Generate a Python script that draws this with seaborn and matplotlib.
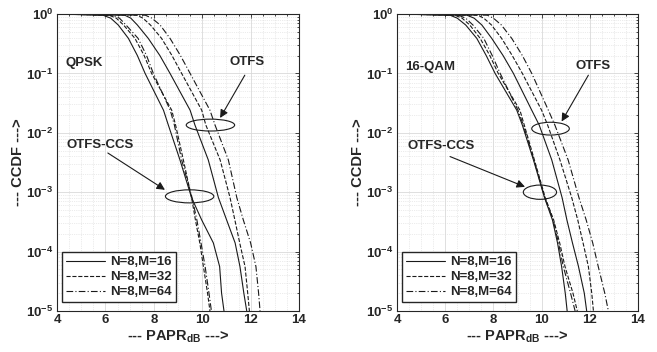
import numpy as np
import pandas as pd
import matplotlib
matplotlib.use('Agg')
import matplotlib.pyplot as plt
from matplotlib.patches import Ellipse
from matplotlib.ticker import MultipleLocator, LogLocator, FixedLocator, FixedFormatter, NullFormatter
import seaborn as sns

# CCDF levels shared by all curves, PAPR (dB) read at each level
ccdf_levels = [1.0, 0.955, 0.851, 0.653, 0.389, 0.2, 0.1, 0.024, 0.0135, 0.0035,
               8.1e-4, 3.4e-4, 1.4e-4, 5.6e-5, 2e-5, 1e-5]

qpsk_ccs_16 = [4.0, 5.9, 6.22, 6.53, 6.95, 7.32, 7.64, 8.4, 8.6, 9.08, 9.56, 9.98, 10.46, 10.72, 10.8, 10.9]
qpsk_ccs_32 = [4.0, 6.15, 6.45, 6.75, 7.22, 7.6, 7.91, 8.74, 8.9, 9.22, 9.56, 9.72, 9.9, 10.05, 10.22, 10.32]
qpsk_ccs_64 = [4.0, 6.3, 6.58, 6.85, 7.35, 7.7, 7.98, 8.68, 8.85, 9.15, 9.58, 9.78, 9.95, 10.12, 10.28, 10.38]
qpsk_otfs_16 = [4.0, 6.8, 7.05, 7.32, 7.77, 8.25, 8.67, 9.5, 9.7, 10.25, 10.67, 11.01, 11.36, 11.56, 11.72, 11.84]
qpsk_otfs_32 = [4.0, 7.3, 7.55, 7.86, 8.32, 8.75, 9.15, 9.98, 10.15, 10.74, 11.15, 11.35, 11.55, 11.77, 11.88, 11.95]
qpsk_otfs_64 = [4.0, 7.65, 7.92, 8.26, 8.67, 9.1, 9.5, 10.32, 10.53, 11.08, 11.43, 11.7, 12.0, 12.22, 12.33, 12.39]

qam_ccs_16 = [4.0, 6.2, 6.5, 6.85, 7.31, 7.7, 8.07, 8.97, 9.2, 9.66, 10.12, 10.45, 10.66, 10.83, 10.98, 11.06]
qam_ccs_32 = [4.0, 6.4, 6.7, 7.02, 7.45, 7.85, 8.2, 9.1, 9.28, 9.7, 10.15, 10.5, 10.75, 10.97, 11.3, 11.48]
qam_ccs_64 = [4.0, 6.55, 6.85, 7.15, 7.6, 7.95, 8.28, 9.02, 9.24, 9.68, 10.13, 10.48, 10.7, 10.9, 11.2, 11.39]
qam_otfs_16 = [4.0, 6.9, 7.2, 7.52, 7.93, 8.4, 8.83, 9.59, 9.9, 10.42, 10.85, 11.05, 11.28, 11.53, 11.77, 11.87]
qam_otfs_32 = [4.0, 7.35, 7.6, 7.92, 8.34, 8.78, 9.2, 10.0, 10.25, 10.76, 11.25, 11.5, 11.72, 11.94, 12.08, 12.15]
qam_otfs_64 = [4.0, 7.75, 8.0, 8.33, 8.76, 9.2, 9.59, 10.28, 10.55, 11.1, 11.55, 11.85, 12.12, 12.35, 12.62, 12.77]

legend_labels = ['N=8,M=16', 'N=8,M=32', 'N=8,M=64']
y_ticks = [1e-5, 1e-4, 1e-3, 1e-2, 1e-1, 1e0]
y_tick_labels = [r'$\mathbf{10^{-5}}$', r'$\mathbf{10^{-4}}$', r'$\mathbf{10^{-3}}$',
                 r'$\mathbf{10^{-2}}$', r'$\mathbf{10^{-1}}$', r'$\mathbf{10^{0}}$']
x_ticks = [4, 6, 8, 10, 12, 14]

sns.set_theme(style='white')
plt.rcParams['font.family'] = ['Liberation Sans', 'DejaVu Sans']
plt.rcParams['font.weight'] = 'bold'
plt.rcParams['mathtext.fontset'] = 'custom'
plt.rcParams['mathtext.rm'] = 'Liberation Sans'
plt.rcParams['mathtext.bf'] = 'Liberation Sans:bold'

styles = ['-', '--', (0, (6, 2, 1, 2))]
gray = '0.15'

fig = plt.figure(figsize=(6.57, 3.52), dpi=100)
ax1 = fig.add_axes([0.0868, 0.1165, 0.3683, 0.8437])
ax2 = fig.add_axes([0.6043, 0.1165, 0.3668, 0.8437])

panels = [
    (ax1, [qpsk_ccs_16, qpsk_ccs_32, qpsk_ccs_64], [qpsk_otfs_16, qpsk_otfs_32, qpsk_otfs_64]),
    (ax2, [qam_ccs_16, qam_ccs_32, qam_ccs_64], [qam_otfs_16, qam_otfs_32, qam_otfs_64]),
]

for ax, ccs, otfs in panels:
    for group in (ccs, otfs):
        for papr, ls, lab in zip(group, styles, legend_labels):
            df = pd.DataFrame({'papr': papr, 'ccdf': ccdf_levels})
            sns.lineplot(data=df, x='papr', y='ccdf', ax=ax, color='k', linestyle=ls,
                         lw=0.8, sort=False, estimator=None, label=lab if group is ccs else None)
    ax.set_yscale('log')
    ax.set_xlim(4, 14)
    ax.set_ylim(1e-5, 1)
    ax.xaxis.set_major_locator(FixedLocator(x_ticks))
    ax.xaxis.set_minor_locator(MultipleLocator(0.5))
    ax.yaxis.set_major_locator(FixedLocator(y_ticks))
    ax.yaxis.set_major_formatter(FixedFormatter(y_tick_labels))
    ax.yaxis.set_minor_locator(LogLocator(base=10, subs=np.arange(2, 10)))
    ax.yaxis.set_minor_formatter(NullFormatter())
    ax.grid(which='major', color='0.85', lw=0.6, ls='-')
    ax.grid(which='minor', color='0.85', lw=0.5, ls=':')
    ax.tick_params(which='both', direction='in', top=True, right=True, colors=gray,
                   labelsize=9.5, length=3, width=0.6, pad=2.5)
    ax.tick_params(which='minor', length=1.5)
    for lbl in ax.get_xticklabels():
        lbl.set_fontweight('bold')
    for sp in ax.spines.values():
        sp.set_color(gray)
        sp.set_linewidth(0.8)
    ax.set_xlabel(r'--- PAPR$_{\mathbf{dB}}$ --->', fontsize=10.5, fontweight='bold', color=gray, labelpad=1)
    ax.set_ylabel('--- CCDF --->', fontsize=10.5, fontweight='bold', color=gray, labelpad=1)
    ax.legend(loc='lower left', bbox_to_anchor=(0.02, 0.03), borderaxespad=0, fancybox=False,
              edgecolor='0.15', framealpha=1, handlelength=3.0, handletextpad=0.35,
              labelspacing=0.2, borderpad=0.3, prop={'weight': 'bold', 'size': 9.5})


def ellipse(ax, x, p, w, h):
    disp = ax.transData.transform((x, p))
    c = ax.transAxes.inverted().transform(disp)
    ax.add_patch(Ellipse(c, w, h, transform=ax.transAxes, fill=False, ec='k', lw=0.8))


arrow = dict(arrowstyle='-|>', color='k', lw=0.8, mutation_scale=12, shrinkA=0, shrinkB=0)

# QPSK annotations
ax1.text(4.37, 10**-0.82, 'QPSK', fontsize=9.5, fontweight='bold', va='center', ha='left')
ax1.text(11.85, 10**-0.8, 'OTFS', fontsize=9.5, fontweight='bold', va='center', ha='center')
ax1.annotate('', xy=(10.74, 10**-1.75), xytext=(11.76, 10**-1.03), arrowprops=arrow)
ellipse(ax1, 10.34, 10**-1.87, 0.2, 0.04)
ax1.text(5.78, 10**-2.2, 'OTFS-CCS', fontsize=9.5, fontweight='bold', va='center', ha='center')
ax1.annotate('', xy=(8.46, 10**-2.96), xytext=(6.1, 10**-2.34), arrowprops=arrow)
ellipse(ax1, 9.48, 10**-3.07, 0.2, 0.044)

# 16-QAM annotations
ax2.text(4.33, 10**-0.89, '16-QAM', fontsize=9.5, fontweight='bold', va='center', ha='left')
ax2.text(12.15, 10**-0.87, 'OTFS', fontsize=9.5, fontweight='bold', va='center', ha='center')
ax2.annotate('', xy=(10.83, 10**-1.81), xytext=(11.94, 10**-1.03), arrowprops=arrow)
ellipse(ax2, 10.37, 10**-1.93, 0.156, 0.043)
ax2.text(5.83, 10**-2.23, 'OTFS-CCS', fontsize=9.5, fontweight='bold', va='center', ha='center')
ax2.annotate('', xy=(9.31, 10**-2.91), xytext=(6.2, 10**-2.4), arrowprops=arrow)
ellipse(ax2, 9.93, 10**-3.0, 0.138, 0.048)

fig.savefig('out.png', dpi=100)
